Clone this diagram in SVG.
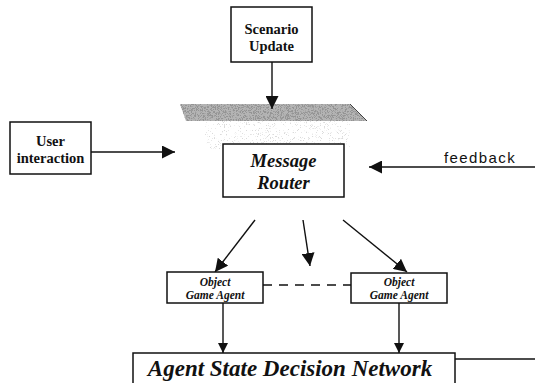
<svg xmlns="http://www.w3.org/2000/svg" width="535" height="383" viewBox="0 0 535 383">
  <style>
    .box { fill: #fff; stroke: #111; stroke-width: 1.5; }
    .line { stroke: #111; stroke-width: 1.4; fill: none; }
    .title { font-family: "Liberation Serif", "Times New Roman", serif; font-weight: bold; fill: #111; text-anchor: middle; }
    .it { font-style: italic; }
    .sans { font-family: "Liberation Sans", Arial, sans-serif; fill: #111; }
  </style>
  <defs>
    <marker id="arrow" viewBox="0 0 10 10" refX="10" refY="5" markerWidth="10" markerHeight="10" markerUnits="userSpaceOnUse" orient="auto">
      <path d="M0,0 L10,5 L0,10 Z" fill="#111"/>
    </marker>
    <marker id="arrowBig" viewBox="0 0 10 10" refX="10" refY="5" markerWidth="13" markerHeight="13" markerUnits="userSpaceOnUse" orient="auto">
      <path d="M0,0 L10,5 L0,10 Z" fill="#111"/>
    </marker>
    <!-- dark speckle for the shaded plate -->
    <filter id="grain" x="0" y="0" width="100%" height="100%">
      <feTurbulence type="fractalNoise" baseFrequency="1.4" numOctaves="2" seed="3" result="n"/>
      <feColorMatrix in="n" type="matrix" values="0 0 0 0 0.3  0 0 0 0 0.3  0 0 0 0 0.3  0 0 0 9 -4.4" result="g"/>
      <feComposite in="g" in2="SourceGraphic" operator="in"/>
    </filter>
    <!-- sparse light speckle under the plate -->
    <filter id="haze" x="0" y="0" width="100%" height="100%">
      <feTurbulence type="fractalNoise" baseFrequency="1.5" numOctaves="1" seed="7" result="n"/>
      <feColorMatrix in="n" type="matrix" values="0 0 0 0 0.7  0 0 0 0 0.7  0 0 0 0 0.7  0 0 0 9 -5.6" result="g"/>
      <feComposite in="g" in2="SourceGraphic" operator="in"/>
    </filter>
  </defs>

  <!-- shaded plate above the router -->
  <g id="plate">
    <path d="M180,104 L350,104 L367,121 L186,121 Z" fill="#b4b4b4"/>
    <path d="M180,104 L350,104 L367,121 L186,121 Z" fill="#000" filter="url(#grain)"/>
    <line x1="350" y1="104" x2="367" y2="121" stroke="#444" stroke-width="1"/>
    <rect x="205" y="121" width="145" height="28" fill="#000" filter="url(#haze)"/>
  </g>

  <g id="connectors">
    <line class="line" x1="272" y1="62" x2="272" y2="109" marker-end="url(#arrowBig)"/>
    <line class="line" x1="91" y1="152" x2="175" y2="152" marker-end="url(#arrowBig)"/>
    <line class="line" x1="535" y1="167" x2="369" y2="167" marker-end="url(#arrowBig)"/>
    <line class="line" x1="255" y1="220" x2="215" y2="272" marker-end="url(#arrowBig)"/>
    <line class="line" x1="303" y1="220" x2="310" y2="266" marker-end="url(#arrowBig)"/>
    <line class="line" x1="343" y1="220" x2="407" y2="272" marker-end="url(#arrowBig)"/>
    <line class="line" x1="263" y1="285" x2="351" y2="285" stroke-dasharray="9,7"/>
    <line class="line" x1="223" y1="303" x2="223" y2="353" marker-end="url(#arrow)"/>
    <line class="line" x1="399" y1="303" x2="399" y2="353" marker-end="url(#arrow)"/>
    <line class="line" x1="455" y1="359" x2="535" y2="359"/>
    <text class="sans" x="444" y="163" font-size="15" letter-spacing="1.4">feedback</text>
  </g>

  <g id="scenario-update">
    <rect class="box" x="231" y="7" width="81" height="55"/>
    <text class="title" x="271.5" y="34" font-size="14.5">Scenario</text>
    <text class="title" x="271.5" y="51" font-size="14.5">Update</text>
  </g>

  <g id="user-interaction">
    <rect class="box" x="10" y="122" width="81" height="52"/>
    <text class="title" x="50.5" y="146" font-size="14.5">User</text>
    <text class="title" x="50.5" y="163" font-size="14.5">interaction</text>
  </g>

  <g id="message-router">
    <rect class="box" x="223" y="144" width="121" height="53"/>
    <text class="title it" x="283.5" y="167" font-size="18.5">Message</text>
    <text class="title it" x="283.5" y="189" font-size="18.5">Router</text>
  </g>

  <g id="object-agent-left">
    <rect class="box" x="167" y="272" width="96" height="31"/>
    <text class="title it" x="215" y="286" font-size="11.5">Object</text>
    <text class="title it" x="215" y="299" font-size="11.5">Game Agent</text>
  </g>

  <g id="object-agent-right">
    <rect class="box" x="351" y="273" width="96" height="30"/>
    <text class="title it" x="399" y="286" font-size="11.5">Object</text>
    <text class="title it" x="399" y="299" font-size="11.5">Game Agent</text>
  </g>

  <g id="decision-network">
    <rect class="box" x="133" y="353" width="322" height="40"/>
    <text class="title it" x="290" y="376" font-size="23">Agent State Decision Network</text>
  </g>
</svg>
